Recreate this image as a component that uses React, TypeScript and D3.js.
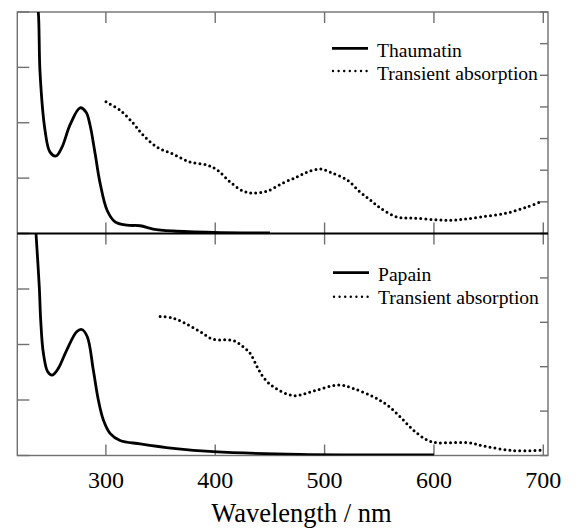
import React from "react";
import * as d3 from "d3";

// ---- Data (wavelength nm, value in axis units) ----
// Top panel: Thaumatin absorption (left axis, 0..4)
const thaumatinNm = [236, 238.2, 239.8, 244.3, 248.9, 254.4, 259.9, 267.2, 276.4, 281.9, 285.5, 290.1, 294.7, 301.1, 308.4, 319.4, 331.4, 343.2, 361.6, 398, 450];
const thaumatinAbs = [4.3, 4.0, 2.9, 1.87, 1.47, 1.4, 1.56, 1.96, 2.27, 2.19, 1.96, 1.45, 0.91, 0.42, 0.21, 0.15, 0.14, 0.08, 0.045, 0.02, 0.01];
// Top panel: transient absorption (right axis, 0..7)
const thauTransNm = [300.1, 312.9, 324.9, 334.0, 346.8, 361.5, 377.0, 392.6, 401.7, 413.6, 425.5, 434.6, 447.5, 462.1, 474.9, 484.1, 495.9, 505.1, 520.6, 532.5, 541.7, 550.8, 566.4, 581.0, 603.0, 621.3, 642.3, 667.0, 685.3, 697.2];
const thauTransVal = [4.16, 3.9, 3.49, 3.11, 2.73, 2.51, 2.26, 2.16, 2.01, 1.63, 1.34, 1.28, 1.34, 1.6, 1.79, 1.94, 2.04, 1.94, 1.69, 1.31, 1.06, 0.81, 0.52, 0.49, 0.43, 0.43, 0.52, 0.65, 0.84, 1.0];
// Bottom panel: Papain absorption (left axis, 0..4)
const papainNm = [235.5, 236.1, 239.1, 240.4, 242.8, 246.8, 251.0, 256.5, 264.2, 273.3, 277.9, 283.0, 288.5, 293.1, 297.7, 303.8, 313.0, 331.3, 361.7, 398.3, 477.6, 600];
const papainAbs = [4.2, 4.0, 3.04, 2.44, 1.85, 1.51, 1.45, 1.57, 1.9, 2.23, 2.27, 2.14, 1.54, 1.0, 0.64, 0.4, 0.27, 0.21, 0.13, 0.07, 0.02, 0.01];
// Bottom panel: transient absorption (right axis, 0..5)
const papTransNm = [349.6, 360.5, 372.4, 386.2, 398.0, 416.3, 425.5, 431.9, 438.3, 443.8, 453.0, 471.5, 489.8, 512.7, 526.4, 544.7, 557.0, 569.1, 581.3, 593.6, 602.7, 630.2, 648.5, 672.8, 697.2];
const papTransVal = [3.13, 3.1, 2.98, 2.79, 2.62, 2.59, 2.45, 2.3, 2.0, 1.77, 1.55, 1.35, 1.45, 1.59, 1.51, 1.32, 1.14, 0.87, 0.57, 0.35, 0.29, 0.29, 0.2, 0.11, 0.12];

const xTicks = [300, 400, 500, 600, 700];
const xTitle = "Wavelength / nm";
const topLegend = ["Thaumatin", "Transient absorption"];
const bottomLegend = ["Papain", "Transient absorption"];

const W = 579, H = 529;
const L = 17.3, R = 548, T = 12, M = 233.5, B = 455.5;

export default function App() {
  const x = d3.scaleLinear().domain([219, 704.3]).range([L, R]);
  const yTopL = d3.scaleLinear().domain([0, 4]).range([M, T]);
  const yTopR = d3.scaleLinear().domain([0, 7]).range([M, T]);
  const yBotL = d3.scaleLinear().domain([0, 4]).range([B, M]);
  const yBotR = d3.scaleLinear().domain([0, 5]).range([B, M]);

  const mk = (xs: number[], ys: number[], ys2: d3.ScaleLinear<number, number>) =>
    d3.line<number>().x((_, i) => x(xs[i])).y((_, i) => ys2(ys[i])).curve(d3.curveCatmullRom.alpha(0.5))(xs) || "";

  const frame = "#707070";
  const tickW = 1.4;
  const leftTicks = (s: d3.ScaleLinear<number, number>, n: number) =>
    d3.range(n + 1).map((v) => (
      <line key={"l" + v + s(v)} x1={L} x2={L + 12} y1={s(v)} y2={s(v)} stroke={frame} strokeWidth={tickW} />
    ));
  const rightTicks = (s: d3.ScaleLinear<number, number>, n: number) =>
    d3.range(n + 1).map((v) => (
      <line key={"r" + v + s(v)} x1={R - 8} x2={R} y1={s(v)} y2={s(v)} stroke={frame} strokeWidth={tickW} />
    ));

  const dotted = { stroke: "#000", strokeWidth: 3, strokeLinecap: "round" as const, strokeDasharray: "0 5", fill: "none" };
  const solid = { stroke: "#000", strokeWidth: 2.8, fill: "none", strokeLinejoin: "round" as const };
  const font = "'Liberation Serif', 'Times New Roman', serif";

  return (
    <svg width={W} height={H} style={{ position: "absolute", left: 0, top: 0 }} xmlns="http://www.w3.org/2000/svg">
      <rect width={W} height={H} fill="#fff" />
      <defs>
        <clipPath id="cTop"><rect x={L} y={T} width={R - L} height={M - T} /></clipPath>
        <clipPath id="cBot"><rect x={L} y={M} width={R - L} height={B - M} /></clipPath>
      </defs>

      {/* frame */}
      <rect x={L} y={T} width={R - L} height={B - T} fill="none" stroke={frame} strokeWidth={1.4} />

      {/* ticks */}
      {leftTicks(yTopL, 4)}
      {leftTicks(yBotL, 4)}
      {rightTicks(yTopR, 7)}
      {rightTicks(yBotR, 5)}
      {xTicks.map((t) => (
        <g key={"x" + t}>
          <line x1={x(t)} x2={x(t)} y1={T} y2={T + 11} stroke={frame} strokeWidth={tickW} />
          <line x1={x(t)} x2={x(t)} y1={M - 11} y2={M + 11} stroke={frame} strokeWidth={tickW} />
          <line x1={x(t)} x2={x(t)} y1={B} y2={B - 11} stroke={frame} strokeWidth={tickW} />
          <text x={x(t)} y={488} textAnchor="middle" fontFamily={font} fontSize={24} fill="#000">{t}</text>
        </g>
      ))}

      {/* middle line */}
      <line x1={L} x2={R} y1={M} y2={M} stroke="#000" strokeWidth={1.8} />

      {/* curves */}
      <g clipPath="url(#cTop)">
        <path d={mk(thaumatinNm, thaumatinAbs, yTopL)} {...solid} />
        <path d={mk(thauTransNm, thauTransVal, yTopR)} {...dotted} />
      </g>
      <g clipPath="url(#cBot)">
        <path d={mk(papainNm, papainAbs, yBotL)} {...solid} />
        <path d={mk(papTransNm, papTransVal, yBotR)} {...dotted} />
      </g>

      {/* legends */}
      <line x1={332} x2={368} y1={48.3} y2={48.3} stroke="#000" strokeWidth={2.8} />
      <line x1={333} x2={368} y1={71} y2={71} {...dotted} strokeDasharray="0 5.6" strokeWidth={2.4} />
      <text x={377} y={57} fontFamily={font} fontSize={19.6}>{topLegend[0]}</text>
      <text x={377} y={80} fontFamily={font} fontSize={19.6}>{topLegend[1]}</text>

      <line x1={333} x2={369} y1={272.7} y2={272.7} stroke="#000" strokeWidth={2.8} />
      <line x1={334} x2={369} y1={296.7} y2={296.7} {...dotted} strokeDasharray="0 5.6" strokeWidth={2.4} />
      <text x={378} y={281} fontFamily={font} fontSize={19.6}>{bottomLegend[0]}</text>
      <text x={378} y={303.5} fontFamily={font} fontSize={19.6}>{bottomLegend[1]}</text>

      {/* axis title */}
      <text x={301.5} y={522} textAnchor="middle" fontFamily={font} fontSize={26.5}>{xTitle}</text>
    </svg>
  );
}
